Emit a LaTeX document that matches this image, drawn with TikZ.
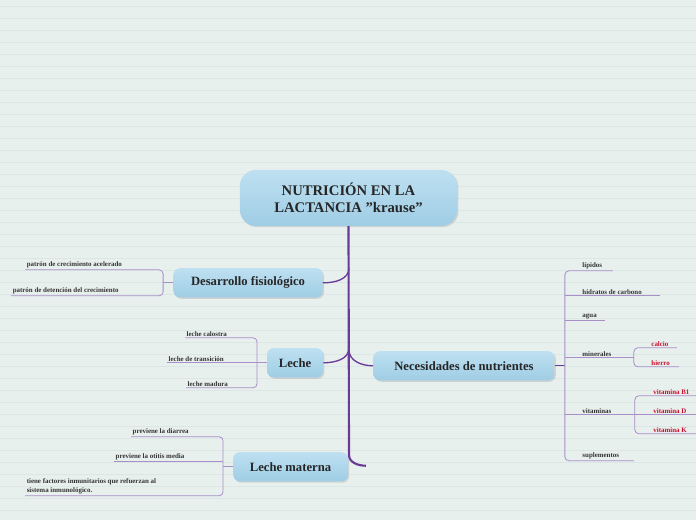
\documentclass[tikz,border=0pt]{standalone}
\usepackage{fontspec}
\setmainfont{Liberation Serif}
\usetikzlibrary{positioning,shadows}
\definecolor{bgc}{HTML}{E8F0EE}
\definecolor{gridc}{HTML}{DCE7E5}
\definecolor{trunkc}{HTML}{6B3A96}
\definecolor{twigc}{HTML}{A88FC8}
\definecolor{boxtop}{HTML}{BEE0F1}
\definecolor{boxbot}{HTML}{9FCDE5}
\definecolor{redc}{HTML}{C8102E}
\tikzset{
  topic/.style={rounded corners=5pt, top color=boxtop, bottom color=boxbot,
    drop shadow={opacity=0.25,shadow xshift=1pt,shadow yshift=-1pt},
    font=\bfseries\fontsize{9.5}{11}\selectfont, text=black!85, inner sep=0pt},
  leaf/.style={font=\bfseries\fontsize{5.2}{6.5}\selectfont, text=black!80, anchor=south west, inner sep=1pt},
  redleaf/.style={leaf, text=redc},
  trunk/.style={draw=trunkc, line width=1.6pt},
  twig/.style={draw=twigc, line width=0.6pt, rounded corners=3pt}
}
\begin{document}
\begin{tikzpicture}[x=0.75pt,y=-0.75pt]
  \fill[bgc] (0,0) rectangle (696,520);
  \foreach \yy in {6,18,...,520} \draw[gridc,line width=0.3pt] (0,\yy) -- (696,\yy);
  \useasboundingbox (0,0) rectangle (696,520);

  % main topics
  \node[topic, minimum width=163pt, minimum height=42pt, rounded corners=12pt, align=center,
    font=\bfseries\fontsize{11}{13}\selectfont] (root) at (348.5,198) {NUTRICIÓN EN LA\\LACTANCIA "krause"};
  \node[topic, minimum width=112pt, minimum height=22pt] (desa) at (248,283) {Desarrollo fisiológico};
  \node[topic, minimum width=42pt, minimum height=22pt] (leche) at (295,363) {Leche};
  \node[topic, minimum width=86pt, minimum height=22pt] (mat) at (290.5,467) {Leche materna};
  \node[topic, minimum width=136pt, minimum height=22pt] (nece) at (464,366) {Necesidades de nutrientes};

  % trunk
  \coordinate (t0) at (349,226);
  \draw[trunk] (root.south) -- (349,455) to[out=-90,in=180] (366,466);
  \draw[trunk,line width=1pt] (349,268) to[out=-90,in=0] (desa.east);
  \draw[trunk,line width=1pt] (349,348) to[out=-90,in=0] (leche.east);
  \draw[trunk,line width=1pt] (349,350) to[out=-90,in=180] (nece.west);

  % Desarrollo
  \node[leaf] (d1) at (25,270) {patrón de crecimiento acelerado};
  \node[leaf] (d2) at (11,296) {patrón de detención del crecimiento};
  \draw[twig] (desa.west) -- (163,283);
  \draw[twig] (25,270) -- (163,270) -- (163,296) -- (11,296);

  % Leche
  \node[leaf] (l1) at (185,338) {leche calostra};
  \node[leaf] (l2) at (167,363) {leche de transición};
  \node[leaf] (l3) at (186,388) {leche madura};
  \draw[twig] (leche.west) -- (167,363);
  \draw[twig] (185,338) -- (257,338) -- (257,388) -- (186,388);

  % Leche materna
  \node[leaf] (m1) at (131,437) {previene la diarrea};
  \node[leaf] (m2) at (114,462) {previene la otitis media};
  \node[leaf, align=left] (m3) at (25,496) {tiene factores inmunitarios que refuerzan al\\sistema inmunológico.};
  \draw[twig] (mat.west) -- (223,467);
  \draw[twig] (131,437) -- (223,437) -- (223,496) -- (25,496);
  \draw[twig] (114,462) -- (223,462);

  % Necesidades
  \node[leaf] (n1) at (581,271) {lípidos};
  \node[leaf] (n2) at (581,296) {hidratos de carbono};
  \node[leaf] (n3) at (581,321) {agua};
  \node[leaf] (n4) at (581,358) {minerales};
  \node[leaf] (n5) at (581,415) {vitaminas};
  \node[leaf] (n6) at (581,461) {suplementos};
  \draw[trunk,line width=1pt] (nece.east) -- (565,366);
  \draw[twig] (613,271) -- (565,271) -- (565,461) -- (634,461);
  \draw[twig] (565,296) -- (660,296);
  \draw[twig] (565,321) -- (605,321);
  \draw[twig] (565,358) -- (634,358);
  \draw[twig] (565,415) -- (635,415);

  \node[redleaf] (c1) at (650,348) {calcio};
  \node[redleaf] (c2) at (650,367) {hierro};
  \draw[twig] (677,348) -- (634,348) -- (634,367) -- (679,367);

  \node[redleaf] (v1) at (652,396) {vitamina B1};
  \node[redleaf] (v2) at (652,415) {vitamina D};
  \node[redleaf] (v3) at (652,434) {vitamina K};
  \draw[twig] (696,396) -- (635,396) -- (635,434) -- (696,434);
  \draw[twig] (635,415) -- (696,415);
\end{tikzpicture}
\end{document}
